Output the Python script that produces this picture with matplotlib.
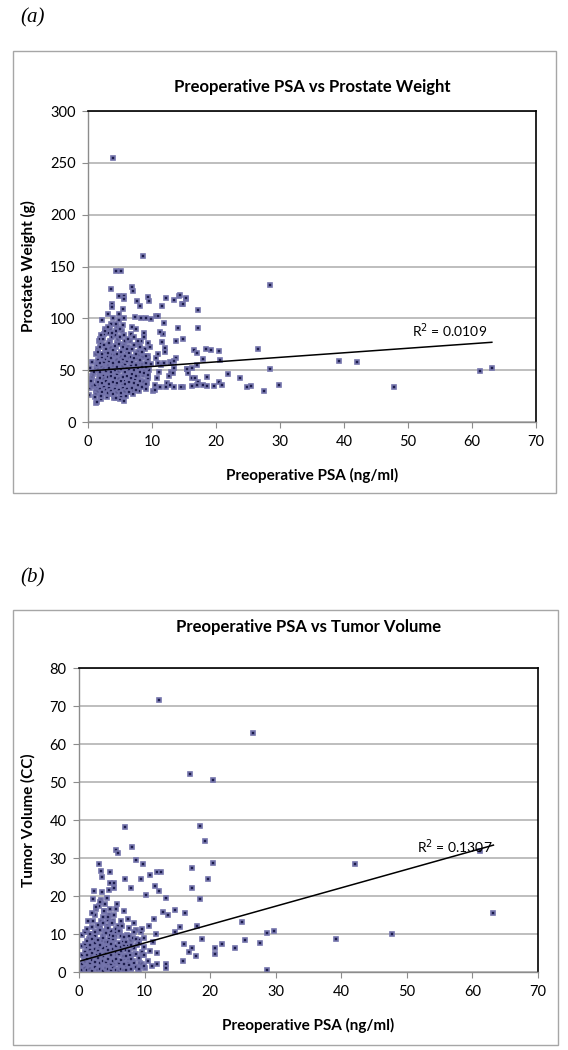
import matplotlib
matplotlib.use("Agg")
import matplotlib.pyplot as plt
from matplotlib.patches import Rectangle

# ---- panel (a): preoperative PSA vs prostate weight ----
# outliers / sparse points
psa_a_sparse = [3.9, 8.6, 4.4, 5.2, 3.6, 6.9, 7.0, 28.4, 4.9, 5.6, 5.6, 3.8, 3.8, 7.6, 8.2,
                9.4, 9.6, 11.5, 12.2, 13.4, 14.2, 14.7, 15.3, 17.2, 17.2, 14.1, 14.8, 13.8,
                11.9, 10.7, 10.9, 9.1, 9.9, 7.3, 8.3, 5.5, 4.9, 3.1, 2.2, 11.2, 11.5, 12.1,
                12.1, 16.6, 17.1, 18.5, 19.2, 20.5, 26.5, 17.9, 20.7, 28.5, 17.1, 16.2, 15.5,
                15.7, 21.9, 23.8, 16.3, 16.7, 18.6, 17.2, 20.5, 16.3, 17.1, 18.0, 18.6, 19.7,
                20.9, 14.8, 24.9, 25.4, 27.5, 29.8, 14.4, 15.3, 14.8, 14.6, 13.5, 12.8, 12.2,
                11.2, 10.5, 15.4, 13.3, 13.0, 13.5, 11.9, 10.9, 1.2, 1.4, 5.7, 4.4, 2.1,
                39.2, 42.1, 47.8, 61.2, 63.1]
wt_a_sparse = [255, 160, 146, 146, 128, 130, 126.5, 132, 122, 122, 119, 114, 111, 116.6, 112,
               121, 117, 112, 120, 118, 122, 114, 119, 108, 91, 91, 80.5, 78,
               95.5, 102, 102, 100, 99, 101, 100, 109, 104.5, 104, 98, 87, 77, 71.6,
               67.7, 69.4, 66.2, 70.4, 69.4, 68.5, 70.4, 60.4, 59.8, 50.8, 55, 52.4, 51.1,
               47.5, 46.3, 42.1, 42.1, 42.1, 43.7, 38.9, 38.9, 34.8, 35.3, 35.8, 34.8, 35.2,
               35.8, 34, 33.5, 34.7, 30.2, 35.7, 122.5, 119.3, 113.8, 33.5, 33.5, 36, 34,
               33.5, 30.4, 51, 47, 56.5, 59, 56.5, 56.5, 18, 19.5, 20, 23, 24.6,
               58.5, 57.5, 33.5, 49.5, 51.8]

# dense cluster, PSA 0-14 ng/ml
psa_a_cluster = [0.2, 0.3, 0.4, 0.5, 0.6, 0.7, 0.8, 0.9, 0.3, 0.6, 0.8, 0.5,
                 1.1, 1.2, 1.3, 1.4, 1.5, 1.6, 1.7, 1.8, 1.9, 1.2, 1.4, 1.6, 1.8, 1.3, 1.5, 1.7, 1.9, 1.1,
                 2.0, 2.1, 2.2, 2.3, 2.4, 2.5, 2.6, 2.7, 2.8, 2.9, 2.1, 2.3, 2.5, 2.7, 2.9, 2.2, 2.4,
                 2.6, 2.8, 2.0, 2.3, 2.5, 2.7, 2.4,
                 3.0, 3.1, 3.2, 3.3, 3.4, 3.5, 3.6, 3.7, 3.8, 3.9, 3.1, 3.3, 3.5, 3.7, 3.9, 3.2, 3.4,
                 3.6, 3.8, 3.0, 3.3, 3.5, 3.7, 3.2, 3.4, 3.6, 3.9, 3.1, 3.5, 3.8,
                 4.0, 4.1, 4.2, 4.3, 4.4, 4.5, 4.6, 4.7, 4.8, 4.9, 4.1, 4.3, 4.5, 4.7, 4.9, 4.2, 4.4,
                 4.6, 4.8, 4.0, 4.3, 4.5, 4.7, 4.2, 4.4, 4.6, 4.9, 4.1, 4.5, 4.8, 4.3, 4.6,
                 5.0, 5.1, 5.2, 5.3, 5.4, 5.5, 5.6, 5.7, 5.8, 5.9, 5.1, 5.3, 5.5, 5.7, 5.9, 5.2, 5.4,
                 5.6, 5.8, 5.0, 5.3, 5.5, 5.7, 5.2,
                 6.0, 6.1, 6.2, 6.3, 6.4, 6.5, 6.6, 6.7, 6.8, 6.9, 6.1, 6.3, 6.5, 6.7, 6.9, 6.2, 6.6,
                 7.0, 7.1, 7.2, 7.3, 7.4, 7.5, 7.6, 7.7, 7.8, 7.9, 7.2, 7.5, 7.8,
                 8.0, 8.2, 8.4, 8.6, 8.8, 8.1, 8.5, 8.9, 8.3, 8.7,
                 9.0, 9.2, 9.4, 9.6, 9.8, 9.3, 9.7,
                 10.1, 10.4, 10.8, 11.1, 11.4, 10.6, 11.0, 11.7,
                 12.3, 12.6, 13.0, 13.4, 12.8, 13.7,
                 # core of the blob
                 1.55, 1.85, 2.15, 2.45, 2.75, 3.05, 3.35, 3.65, 3.95, 4.25, 4.55, 4.85, 5.15, 5.45, 5.75, 6.05, 6.35, 6.65,
                 1.55, 1.85, 2.15, 2.45, 2.75, 3.05, 3.35, 3.65, 3.95, 4.25, 4.55, 4.85, 5.15, 5.45, 5.75, 6.05, 6.35, 6.65,
                 1.55, 1.85, 2.15, 2.45, 2.75, 3.05, 3.35, 3.65, 3.95, 4.25, 4.55, 4.85, 5.15, 5.45, 5.75, 6.05, 6.35, 6.65,
                 1.55, 1.85, 2.15, 2.45, 2.75, 3.05, 3.35, 3.65, 3.95, 4.25, 4.55, 4.85, 5.15, 5.45, 5.75, 6.05, 6.35, 6.65,
                 1.55, 1.85, 2.15, 2.45, 2.75, 3.05, 3.35, 3.65, 3.95, 4.25, 4.55, 4.85, 5.15, 5.45, 5.75, 6.05, 6.35, 6.65,
                 # right flank and top of the blob
                 6.95, 7.25, 7.55, 7.85, 8.15, 8.45, 8.75, 9.05, 9.35,
                 6.95, 7.25, 7.55, 7.85, 8.15, 8.45, 8.75, 9.05, 9.35,
                 6.95, 7.25, 7.55, 7.85, 8.15, 8.45, 8.75, 9.05, 9.35,
                 6.95, 7.25, 7.55, 7.85, 8.15, 8.45, 8.75, 9.05, 9.35,
                 2.0, 2.6, 3.2, 3.8, 4.4, 5.0, 5.6, 6.2]
wt_a_cluster = [26, 33, 36, 38, 41, 44, 46, 48, 52, 58, 35, 40,
                24, 28, 31, 34, 37, 40, 43, 46, 49, 52, 55, 58, 62, 66, 70, 78, 80, 36,
                22, 25, 28, 30, 33, 35, 38, 40, 42, 45, 47, 50, 53, 56, 59, 62, 65,
                68, 72, 75, 80, 85, 90, 44,
                24, 27, 29, 31, 33, 35, 37, 39, 41, 43, 45, 47, 49, 51, 54, 57, 60,
                63, 66, 70, 74, 78, 82, 86, 90, 95, 100, 38, 52, 44,
                23, 26, 29, 31, 33, 35, 37, 39, 41, 43, 45, 47, 49, 51, 53, 56, 59,
                62, 65, 68, 72, 76, 80, 84, 88, 93, 98, 40, 46, 55, 36, 50,
                22, 25, 28, 31, 34, 37, 40, 43, 46, 49, 52, 55, 58, 61, 64, 67, 70,
                74, 78, 82, 88, 94, 100, 42,
                25, 29, 33, 37, 41, 45, 49, 53, 57, 62, 67, 72, 78, 85, 92, 38, 46,
                27, 31, 36, 41, 46, 51, 56, 62, 68, 75, 82, 90, 44,
                30, 35, 40, 45, 50, 56, 63, 70, 78, 86,
                32, 38, 44, 50, 56, 64, 72,
                30, 36, 42, 48, 55, 62, 66, 85,
                38, 44, 48, 52, 58, 62,
                30, 32, 29, 34, 31, 28, 33, 30, 27, 32, 29, 31, 28, 33, 30, 32, 29, 34,
                39, 42, 38, 41, 40, 43, 37, 44, 39, 42, 38, 41, 40, 43, 37, 44, 39, 42,
                50, 48, 53, 51, 49, 54, 52, 48, 55, 50, 53, 49, 51, 54, 48, 52, 50, 47,
                60, 57, 63, 58, 61, 64, 59, 62, 57, 65, 60, 58, 63, 61, 56, 59, 62, 55,
                68, 72, 66, 74, 70, 67, 76, 71, 69, 73, 66, 75, 68, 72, 64, 70, 67, 63,
                33, 38, 31, 36, 40, 34, 39, 37, 42,
                46, 50, 44, 52, 48, 55, 47, 53, 45,
                58, 62, 55, 65, 60, 53, 63, 57, 61,
                70, 74, 66, 78, 72, 68, 82, 64, 76,
                84, 88, 92, 86, 95, 90, 84, 80]

# ---- panel (b): preoperative PSA vs tumor volume ----
psa_b_sparse = [12.2, 26.5, 17.0, 20.5, 7.0, 18.5, 19.2, 8.1, 5.7, 6.0, 8.7, 9.7, 3.1, 3.3,
                3.5, 4.8, 20.4, 17.2, 19.6, 10.8, 11.9, 12.5, 7.0, 7.9, 9.5, 17.2, 11.6,
                12.2, 10.2, 13.2, 5.4, 5.4, 2.3, 2.1, 18.5, 14.7, 16.2, 12.8, 13.6, 24.8,
                18.0, 15.4, 14.6, 21.8, 20.7, 20.7, 23.8, 25.3, 27.6, 28.6, 29.8, 28.6,
                18.7, 17.3, 16.7, 17.8, 13.2, 13.2, 16.0, 15.8, 11.9, 11.9, 11.2,
                39.2, 42.1, 47.8, 61.1, 63.2]
vol_b_sparse = [71.6, 62.9, 52.2, 50.5, 38.1, 38.4, 34.6, 32.8, 32.1, 31.4, 29.4, 28.4, 28.4, 26.6,
                24.9, 26.4, 28.7, 27.3, 24.6, 25.4, 26.4, 26.4, 24.4, 22.2, 24.4, 22.2, 22.6,
                21.4, 20.2, 19.6, 23.3, 22.2, 21.4, 19.3, 19.3, 16.4, 15.6, 15.8, 14.9, 13.2,
                12.0, 11.9, 10.5, 7.3, 6.2, 4.8, 6.4, 8.5, 7.6, 10.3, 10.8, 0.6,
                8.8, 6.4, 5.3, 4.1, 2.2, 1.1, 7.3, 3.0, 5.0, 2.2, 1.5,
                8.8, 28.4, 10.0, 31.9, 15.6]

psa_b_cluster = [0.1, 0.2, 0.3, 0.4, 0.5, 0.6, 0.7, 0.8, 0.9, 0.3, 0.6,
                 1.1, 1.2, 1.3, 1.4, 1.5, 1.6, 1.7, 1.8, 1.9, 1.2, 1.4, 1.6, 1.8, 1.5,
                 2.0, 2.1, 2.2, 2.3, 2.4, 2.5, 2.6, 2.7, 2.8, 2.9, 2.1, 2.3, 2.5, 2.7, 2.9, 2.2, 2.4, 2.6,
                 3.0, 3.1, 3.2, 3.3, 3.4, 3.5, 3.6, 3.7, 3.8, 3.9, 3.1, 3.3, 3.5, 3.7, 3.9, 3.2, 3.4,
                 3.6, 3.8, 3.0, 3.3, 3.5,
                 4.0, 4.1, 4.2, 4.3, 4.4, 4.5, 4.6, 4.7, 4.8, 4.9, 4.1, 4.3, 4.5, 4.7, 4.9, 4.2, 4.4,
                 4.6, 4.8, 4.0, 4.3, 4.5, 4.7, 4.2,
                 5.0, 5.1, 5.2, 5.3, 5.4, 5.5, 5.6, 5.7, 5.8, 5.9, 5.1, 5.3, 5.5, 5.7, 5.9, 5.2, 5.4,
                 5.6, 5.8,
                 6.0, 6.2, 6.4, 6.6, 6.8, 6.1, 6.3, 6.5, 6.7, 6.9, 6.2, 6.6, 6.4, 6.8,
                 7.0, 7.2, 7.4, 7.6, 7.8, 7.1, 7.5, 7.9, 7.3, 7.7, 7.4,
                 8.0, 8.3, 8.6, 8.9, 8.2, 8.7, 8.4,
                 9.0, 9.3, 9.6, 9.9, 9.2, 9.5,
                 10.1, 10.5, 10.9, 11.3, 11.7, 10.7, 11.5,
                 # core of the blob
                 0.45, 0.85, 1.25, 1.65, 2.05, 2.45, 2.85, 3.25, 3.65, 4.05, 4.45, 4.85, 5.25, 5.65, 6.05, 6.45, 6.85,
                 0.45, 0.85, 1.25, 1.65, 2.05, 2.45, 2.85, 3.25, 3.65, 4.05, 4.45, 4.85, 5.25, 5.65, 6.05, 6.45, 6.85,
                 0.45, 0.85, 1.25, 1.65, 2.05, 2.45, 2.85, 3.25, 3.65, 4.05, 4.45, 4.85, 5.25, 5.65, 6.05, 6.45, 6.85,
                 0.45, 0.85, 1.25, 1.65, 2.05, 2.45, 2.85, 3.25, 3.65, 4.05, 4.45, 4.85, 5.25, 5.65, 6.05, 6.45, 6.85,
                 0.45, 0.85, 1.25, 1.65, 2.05, 2.45, 2.85, 3.25, 3.65, 4.05, 4.45, 4.85, 5.25, 5.65, 6.05, 6.45, 6.85,
                 # right flank and top of the blob
                 7.15, 7.55, 7.95, 8.35, 8.75, 9.15, 9.55, 9.95,
                 7.15, 7.55, 7.95, 8.35, 8.75, 9.15, 9.55, 9.95,
                 7.15, 7.55, 7.95, 8.35, 8.75, 9.15, 9.55, 9.95,
                 1.4, 2.0, 2.6, 3.2, 3.8, 4.4, 5.0]
vol_b_cluster = [0.3, 0.5, 0.8, 1.2, 1.5, 2.0, 2.5, 3.2, 4.0, 0.2, 0.6,
                 0.2, 0.5, 1.0, 1.6, 2.3, 3.0, 3.8, 4.6, 5.5, 6.5, 7.5, 8.8, 10.0, 0.8,
                 0.3, 0.7, 1.2, 1.8, 2.5, 3.2, 4.0, 4.8, 5.6, 6.5, 7.4, 8.4, 9.5, 10.6, 12.0, 13.5, 15.0, 16.5,
                 0.2, 0.6, 1.0, 1.5, 2.1, 2.7, 3.4, 4.1, 4.9, 5.7, 6.6, 7.5, 8.5, 9.6, 10.8, 12.0, 13.3,
                 14.6, 16.0, 17.5, 19.0, 21.0,
                 0.3, 0.7, 1.1, 1.6, 2.2, 2.8, 3.5, 4.2, 5.0, 5.8, 6.7, 7.6, 8.6, 9.7, 10.9, 12.2, 13.6,
                 15.0, 16.5, 18.0, 19.5, 21.5, 23.5, 11.5,
                 0.3, 0.8, 1.3, 1.9, 2.5, 3.2, 3.9, 4.7, 5.5, 6.4, 7.3, 8.3, 9.4, 10.6, 12.0, 13.5, 15.0,
                 16.5, 18.0,
                 0.4, 1.2, 2.0, 2.9, 3.8, 4.8, 5.8, 6.9, 8.0, 9.2, 10.5, 12.0, 13.5, 16.0,
                 0.5, 1.4, 2.4, 3.4, 4.5, 5.7, 7.0, 8.3, 9.8, 11.5, 14.0,
                 1.0, 2.8, 4.8, 7.0, 9.0, 11.0, 13.0,
                 0.8, 2.5, 4.5, 6.5, 8.5, 10.5,
                 1.0, 3.0, 5.5, 8.0, 10.0, 12.0, 14.0,
                 0.4, 1.1, 0.6, 0.9, 0.3, 1.3, 0.5, 0.8, 0.2, 1.0, 0.7, 0.4, 1.2, 0.6, 0.3, 0.9, 0.5,
                 2.2, 2.9, 3.5, 2.4, 3.1, 2.7, 3.6, 2.3, 3.0, 2.6, 3.4, 2.1, 2.8, 3.3, 2.5, 3.2, 2.0,
                 4.6, 5.2, 4.4, 5.8, 4.9, 6.1, 5.4, 4.7, 6.3, 5.1, 5.7, 4.5, 6.0, 5.3, 4.8, 5.5, 4.2,
                 6.8, 7.3, 8.1, 7.0, 8.6, 7.6, 8.3, 7.2, 8.9, 7.8, 8.0, 7.4, 8.7, 6.9, 7.7, 6.6, 7.1,
                 9.8, 10.4, 11.2, 10.0, 11.8, 10.6, 12.4, 11.0, 13.0, 10.2, 11.6, 12.8, 9.6, 11.4, 10.8, 9.4, 9.2,
                 0.5, 1.8, 0.9, 2.4, 1.2, 0.7, 2.0, 1.5,
                 4.2, 5.6, 3.5, 6.2, 4.8, 3.8, 5.2, 4.4,
                 8.0, 9.4, 7.2, 10.6, 8.8, 7.6, 11.4, 9.0,
                 13.5, 15.5, 17.0, 18.5, 16.0, 14.5, 13.0]

# linear trend lines (slope, intercept) and R^2 labels
trend_a = (0.439, 49.2)
trend_b = (0.484, 2.8)
r2_a = "0.0109"
r2_b = "0.1307"

plt.rcParams['font.family'] = ['Lato', 'DejaVu Sans']

fig = plt.figure(figsize=(5.68, 10.5), dpi=100)
W, H = 568.0, 1050.0


def fig_box(x0, y0, x1, y1):
    # pixel coords (top-left origin) -> figure rectangle
    fig.patches.append(Rectangle((x0 / W, 1 - y1 / H), (x1 - x0) / W, (y1 - y0) / H,
                                 transform=fig.transFigure, fill=False,
                                 edgecolor='#a6a6a6', linewidth=1.0))


def style_axes(ax, ymax, ystep):
    ax.set_xlim(0, 70)
    ax.set_ylim(0, ymax)
    ax.set_xticks(range(0, 71, 10))
    ax.set_yticks(range(0, ymax + 1, ystep))
    ax.grid(axis='y', color='#b3b3b3', linewidth=1.2)
    ax.set_axisbelow(True)
    for side in ['top', 'right']:
        ax.spines[side].set_color('black')
        ax.spines[side].set_linewidth(1.2)
    for side in ['left', 'bottom']:
        ax.spines[side].set_color('#8c8c8c')
        ax.spines[side].set_linewidth(1.0)
    ax.tick_params(length=4, color='#8c8c8c', labelsize=10.5, pad=5)


def draw_points(ax, xs, ys):
    ax.plot(xs, ys, linestyle='none', marker='s', markersize=3.2,
            markerfacecolor='#1c1c4c', markeredgecolor='#7474ac', markeredgewidth=1.2)


# panel (a)
fig_box(13, 51, 556, 493)
fig.text(20 / W, 1 - 18 / H, '(a)', family='Liberation Serif', style='italic', fontsize=15,
         va='center')
ax1 = fig.add_axes([88 / W, 1 - 422 / H, 448 / W, 311 / H])
style_axes(ax1, 300, 50)
draw_points(ax1, psa_a_cluster, wt_a_cluster)
draw_points(ax1, psa_a_sparse, wt_a_sparse)
xa_max = max(psa_a_sparse)
ax1.plot([0, xa_max], [trend_a[1], trend_a[1] + trend_a[0] * xa_max], color='black', lw=1.1)
ax1.text(50.6, 79, 'R$^2$ = ' + r2_a, fontsize=10, va='bottom')
ax1.set_title('Preoperative PSA vs Prostate Weight', fontsize=12, fontweight='bold', pad=14)
ax1.set_xlabel('Preoperative PSA (ng/ml)', fontsize=11, fontweight='bold', labelpad=14)
ax1.set_ylabel('Prostate Weight (g)', fontsize=11, fontweight='bold', labelpad=10)

# panel (b)
fig_box(13, 610, 558, 1045)
fig.text(20 / W, 1 - 578 / H, '(b)', family='Liberation Serif', style='italic', fontsize=15,
         va='center')
ax2 = fig.add_axes([79 / W, 1 - 972 / H, 459 / W, 304 / H])
style_axes(ax2, 80, 10)
draw_points(ax2, psa_b_cluster, vol_b_cluster)
draw_points(ax2, psa_b_sparse, vol_b_sparse)
xb_max = max(psa_b_sparse)
ax2.plot([0, xb_max], [trend_b[1], trend_b[1] + trend_b[0] * xb_max], color='black', lw=1.1)
ax2.text(51.5, 33, 'R$^2$ = ' + r2_b, fontsize=10, va='center')
ax2.set_title('Preoperative PSA vs Tumor Volume', fontsize=12, fontweight='bold', pad=26)
ax2.set_xlabel('Preoperative PSA (ng/ml)', fontsize=11, fontweight='bold', labelpad=14)
ax2.set_ylabel('Tumor Volume (CC)', fontsize=11, fontweight='bold', labelpad=10)

fig.savefig('out.png', dpi=100)
